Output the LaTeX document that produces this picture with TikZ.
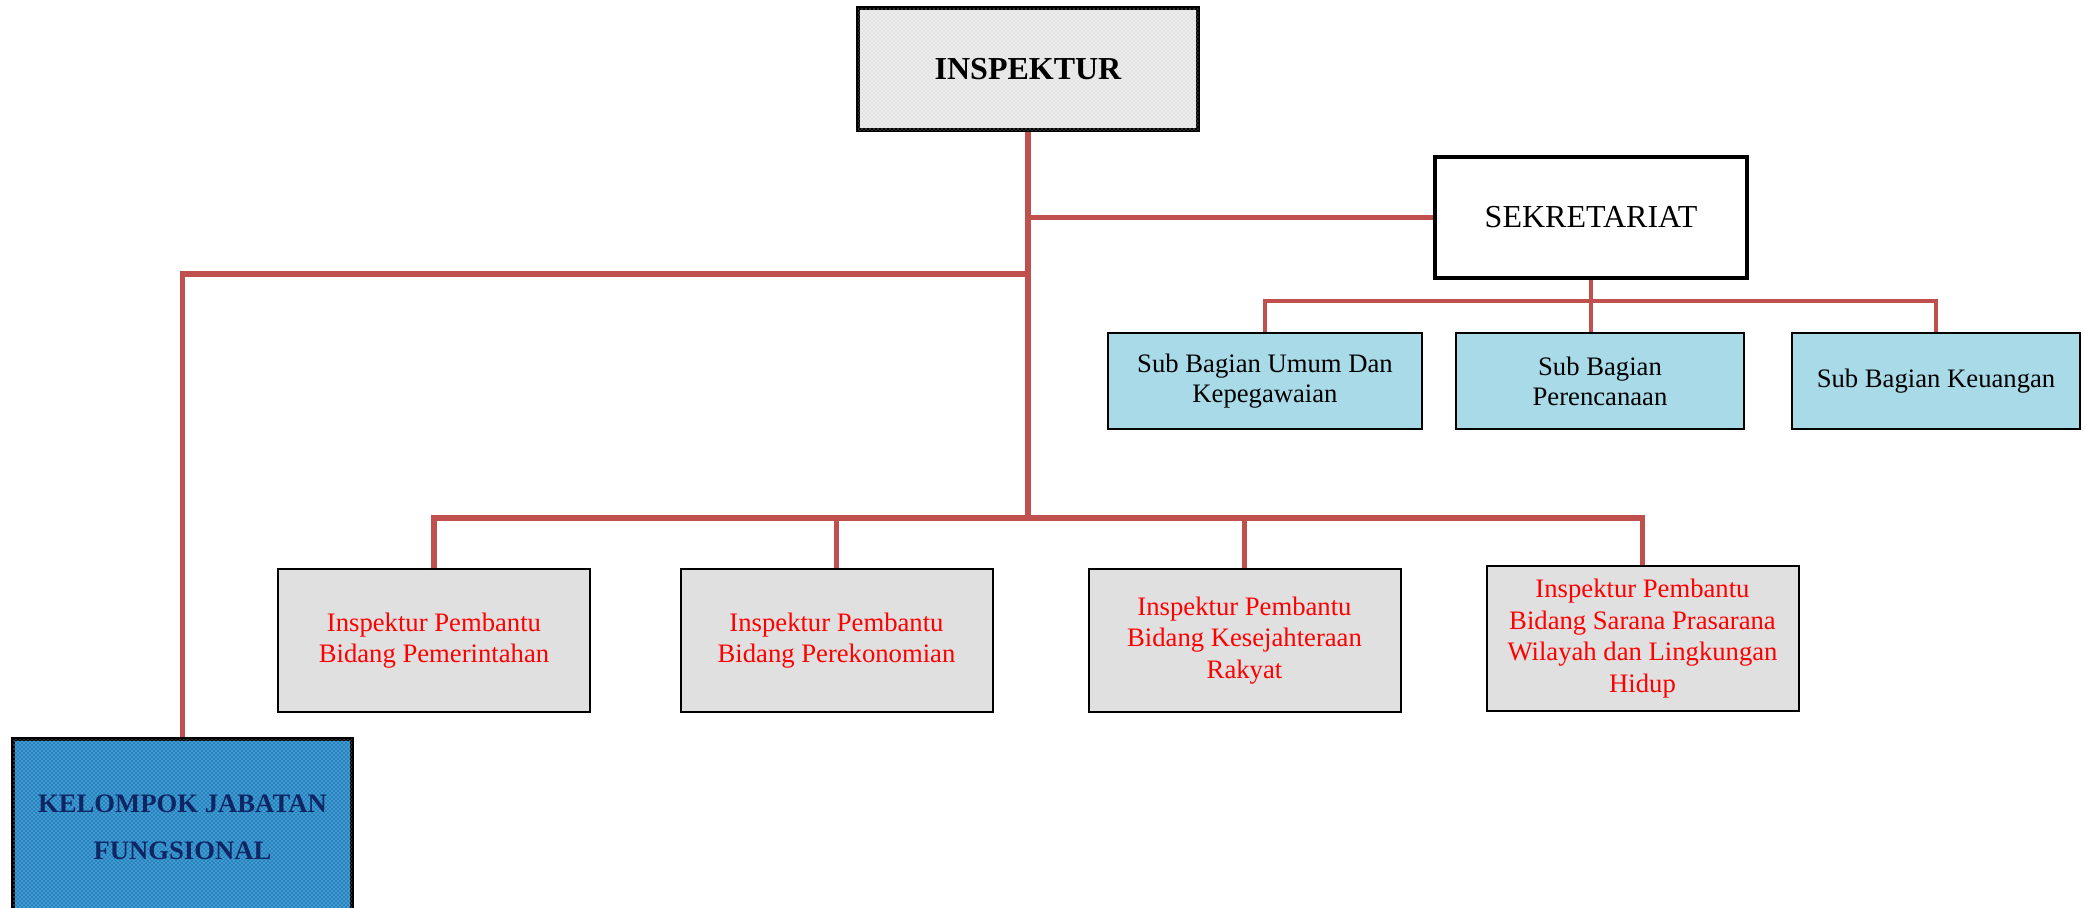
\documentclass[tikz,border=0pt]{standalone}
\usepackage{fontspec}
\setmainfont{Liberation Serif}
\usetikzlibrary{patterns}
\definecolor{linered}{RGB}{192,80,77}
\definecolor{pbgray}{RGB}{224,224,224}
\definecolor{subcyan}{RGB}{168,218,232}
\definecolor{kelblue}{RGB}{30,132,196}
\definecolor{kelnavy}{RGB}{14,38,100}
\definecolor{inspgray}{RGB}{236,236,236}
\begin{document}
\begin{tikzpicture}[x=0.75pt,y=-0.75pt,
  box/.style={draw=black, rectangle, inner sep=2pt, align=center},
  ipbox/.style={box, line width=1.5pt, fill=pbgray, text=red,
    font=\fontsize{20}{23.75}\selectfont, minimum width=234pt, minimum height=107.25pt},
  subbox/.style={box, line width=1.5pt, fill=subcyan,
    font=\fontsize{20}{22.5}\selectfont, minimum height=72pt},
  conn/.style={draw=linered, line width=3.8pt},
  subconn/.style={draw=linered, line width=3.3pt}]
\useasboundingbox (0,0) rectangle (2085,907);

% nodes
\node[box, line width=3pt, fill=inspgray,
  postaction={pattern=crosshatch dots, pattern color=black!22},
  minimum width=255pt, minimum height=91.5pt,
  font=\fontsize{24}{28}\selectfont\bfseries] (insp) at (1028,69) {INSPEKTUR};
\node[box, line width=3pt, fill=white, minimum width=234pt, minimum height=90.75pt,
  font=\fontsize{24}{28}\selectfont] (sek) at (1591,217.5) {SEKRETARIAT};

\node[subbox, minimum width=235.5pt] (sub1) at (1265,381) {Sub Bagian Umum Dan\\Kepegawaian};
\node[subbox, minimum width=216pt] (sub2) at (1600,381) {Sub Bagian\\Perencanaan};
\node[subbox, minimum width=216pt] (sub3) at (1936,381) {Sub Bagian Keuangan};

\node[ipbox] (pb1) at (434,640.5) {Inspektur Pembantu\\Bidang Pemerintahan};
\node[ipbox] (pb2) at (836.5,640.5) {Inspektur Pembantu\\Bidang Perekonomian};
\node[ipbox] (pb3) at (1244.5,640.5) {Inspektur Pembantu\\Bidang Kesejahteraan\\Rakyat};
\node[ipbox, minimum height=108.75pt] (pb4) at (1642.5,638.5) {Inspektur Pembantu\\Bidang Sarana Prasarana\\Wilayah dan Lingkungan\\Hidup};

\node[box, line width=3pt, fill=kelblue,
  postaction={pattern=crosshatch dots, pattern color=black!12},
  text=kelnavy, minimum width=254pt, minimum height=132pt,
  font=\fontsize{20}{35.5}\selectfont\bfseries] (kel) at (182.5,827) {KELOMPOK JABATAN\\FUNGSIONAL};

% connectors
\coordinate (busL) at (0,518);
\coordinate (leftY) at (0,274);
\coordinate (subY) at (0,301);
\draw[conn] (insp.south) -- (insp.south |- busL);
\draw[conn] (insp.south |- sek.west) -- (sek.west);
\draw[conn] (insp.south |- leftY) -- (kel.north |- leftY) -- (kel.north);
\draw[conn] (pb1.north) -- (pb1.north |- busL) -- (pb4.north |- busL) -- (pb4.north);
\draw[conn] (pb2.north |- busL) -- (pb2.north);
\draw[conn] (pb3.north |- busL) -- (pb3.north);
\draw[subconn] (sek.south) -- (sek.south |- sub2.north);
\draw[subconn] (sub1.north) -- (sub1.north |- subY) -- (sub3.north |- subY) -- (sub3.north);
\end{tikzpicture}
\end{document}
